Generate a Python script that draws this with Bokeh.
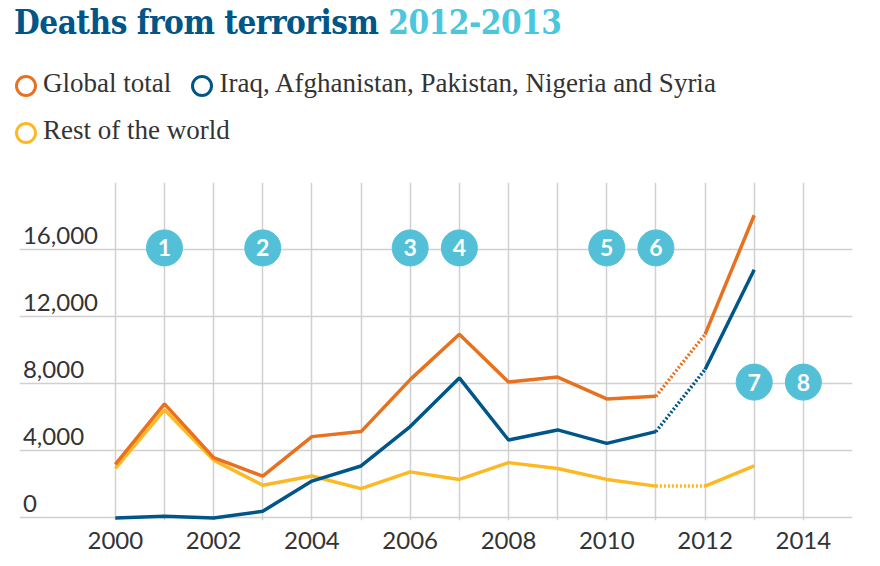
from bokeh.plotting import figure
from bokeh.layouts import column
from bokeh.models import Div, FixedTicker, ColumnDataSource
from bokeh.core.properties import value
from bokeh.embed import file_html
from bokeh.resources import INLINE

years = list(range(2000, 2014))
global_total = [3200, 6800, 3600, 2500, 4850, 5150, 8250, 10950, 8100, 8400, 7100, 7250, 10950, 18050]
five_countries = [0, 100, 0, 400, 2200, 3100, 5450, 8350, 4650, 5250, 4450, 5150, 8850, 14800]
rest_world = [2950, 6450, 3450, 1950, 2500, 1750, 2750, 2300, 3300, 2950, 2300, 1900, 1900, 3100]
event_years = [2001, 2003, 2006, 2007, 2010, 2011, 2013, 2014]
event_levels = [16100, 16100, 16100, 16100, 16100, 16100, 8100, 8100]
event_labels = ["1", "2", "3", "4", "5", "6", "7", "8"]
y_ticks = [0, 4000, 8000, 12000, 16000]
y_tick_labels = ["0", "4,000", "8,000", "12,000", "16,000"]

ORANGE, BLUE, YELLOW, CYAN = "#e8711f", "#005689", "#fdb924", "#53c0d8"

def ring(c):
    return (f"<span style='display:inline-block;width:22px;height:22px;border:3px solid {c};"
            f"border-radius:50%;vertical-align:middle;margin-right:6px;box-sizing:border-box'></span>")

header = Div(width=864, height=160, text=f"""
<div style="font-family:'DejaVu Serif Condensed','DejaVu Serif';font-weight:bold;font-size:33px;color:{BLUE};
margin-top:-6px;margin-left:9px;letter-spacing:-0.5px">Deaths from terrorism <span style="color:#4bc6df">2012-2013</span></div>
<div style="font-family:'Liberation Serif';font-size:27px;color:#333;margin-top:18px;margin-left:10px">
{ring(ORANGE)}Global total&nbsp;&nbsp;&nbsp;{ring(BLUE)}Iraq, Afghanistan, Pakistan, Nigeria and Syria</div>
<div style="font-family:'Liberation Serif';font-size:27px;color:#333;margin-top:8px;margin-left:10px">
{ring(YELLOW)}Rest of the world</div>
""")

p = figure(width=864, height=398, output_backend="svg", toolbar_location=None,
           x_range=(1998.05, 2015.0), y_range=(-150, 20000),
           min_border_top=12, min_border_bottom=48, min_border_left=19, min_border_right=12)
p.outline_line_color = None
p.yaxis.visible = False
p.xaxis.ticker = FixedTicker(ticks=list(range(2000, 2015, 2)))
p.xaxis.major_tick_line_color = None
p.xaxis.minor_tick_line_color = None
p.xaxis.axis_line_color = None
p.xaxis.major_label_text_font = "Lato"
p.xaxis.major_label_text_font_size = "24px"
p.xaxis.major_label_text_color = "#333333"
p.xgrid.ticker = FixedTicker(ticks=list(range(2000, 2016)))
p.ygrid.ticker = FixedTicker(ticks=[0, 4000, 8000, 12000, 16000, 20000])
p.xgrid.grid_line_color = "#d0d0d0"
p.ygrid.grid_line_color = "#d0d0d0"
p.xgrid.grid_line_width = 1.5
p.ygrid.grid_line_width = 1.5

for data, c in [(rest_world, YELLOW), (five_countries, BLUE), (global_total, ORANGE)]:
    p.line(years[:12], data[:12], color=c, line_width=3.5)
    p.line(years[11:13], data[11:13], color=c, line_width=3.5, line_dash="2 2")
    p.line(years[12:], data[12:], color=c, line_width=3.5)

p.text(x=[1998.12] * 5, y=y_ticks, text=y_tick_labels, y_offset=-6,
       text_baseline="bottom", text_font=value("Lato"), text_font_size="24px", text_color="#333333")

src = ColumnDataSource(dict(x=event_years, y=event_levels, t=event_labels))
p.scatter("x", "y", source=src, size=36, color=CYAN)
p.text("x", "y", text="t", source=src, text_align="center", text_baseline="middle",
       text_font=value("Lato"), text_font_style="bold", text_font_size="23px", text_color="white")

page = column(header, p, spacing=0)
open("out.html", "w").write(file_html(page, INLINE))
